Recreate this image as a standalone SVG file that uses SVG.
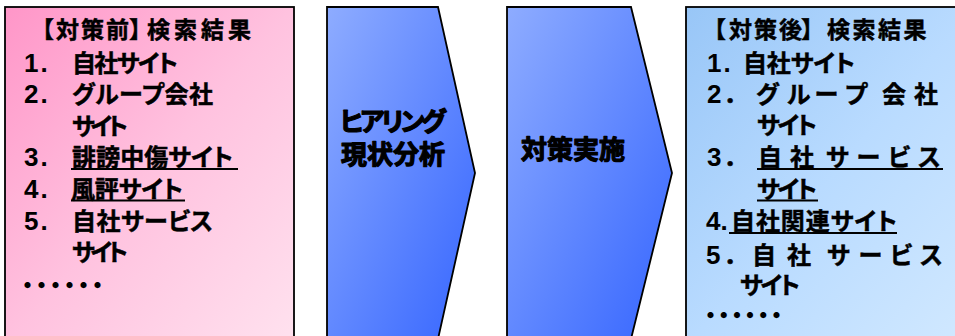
<svg xmlns="http://www.w3.org/2000/svg" width="955" height="336" viewBox="0 0 955 336">
<defs>
<linearGradient id="gPink" x1="0" y1="0" x2="1" y2="1">
<stop offset="0" stop-color="#ff96c8"/>
<stop offset="0.5" stop-color="#ffc2df"/>
<stop offset="1" stop-color="#ffe2ef"/>
</linearGradient>
<linearGradient id="gBlue" x1="0" y1="0" x2="1" y2="1">
<stop offset="0" stop-color="#8eacff"/>
<stop offset="1" stop-color="#3565ff"/>
</linearGradient>
<linearGradient id="gSky" x1="0" y1="0" x2="1" y2="1">
<stop offset="0" stop-color="#98c6f7"/>
<stop offset="0.5" stop-color="#b9dbff"/>
<stop offset="1" stop-color="#d2e9ff"/>
</linearGradient>
<style>
.box{stroke:#000;stroke-width:1.8}
.t{font-family:"Noto Sans CJK JP",sans-serif;font-weight:700;font-size:24px;fill:#000;stroke:#000;stroke-width:0.5;font-feature-settings:"palt"}
.d{font-family:"Liberation Sans","Noto Sans CJK JP",sans-serif;font-weight:700;font-size:26px;fill:#000}
.ti{font-family:"Noto Sans CJK JP",sans-serif;font-weight:700;font-size:23px;fill:#000;stroke:#000;stroke-width:0.5}
.m{font-family:"Noto Sans CJK JP",sans-serif;font-weight:700;font-size:26px;fill:#000;stroke:#000;stroke-width:1.2;stroke-linejoin:round;font-feature-settings:"palt"}
.dots{font-family:"Noto Sans CJK JP",sans-serif;font-weight:700;font-size:24px;fill:#000}
.ul{stroke:#000;stroke-width:2}
</style>
</defs>

<g id="before">
<rect class="box" x="5" y="7" width="289" height="340" fill="url(#gPink)"/>
<text class="ti" y="38" x="31 56 81 106 129 147 174 201 228">【対策前】検索結果</text>
<text class="d" x="24" y="72" letter-spacing="2">1.</text>
<text class="t" x="72" y="72" textLength="106">自社サイト</text>
<text class="d" x="24" y="103" letter-spacing="2">2.</text>
<text class="t" x="72" y="103" textLength="141">グループ会社</text>
<text class="t" x="72" y="135" textLength="56">サイト</text>
<text class="d" x="24" y="166" letter-spacing="2">3.</text>
<text class="t" x="72" y="166" textLength="161">誹謗中傷サイト</text>
<line class="ul" x1="71" y1="169" x2="238" y2="169"/>
<text class="d" x="24" y="198" letter-spacing="2">4.</text>
<text class="t" x="71" y="198" textLength="112">風評サイト</text>
<line class="ul" x1="71" y1="200.5" x2="185" y2="200.5"/>
<text class="d" x="24" y="230" letter-spacing="2">5.</text>
<text class="t" x="72" y="230" textLength="141">自社サービス</text>
<text class="t" x="72" y="261" textLength="56">サイト</text>
<text class="dots" x="15.5" y="294" letter-spacing="-10">・・・・・・</text>
</g>

<g id="step1">
<polygon class="box" points="327,7 438,7 475,173 438,339 327,339" fill="url(#gBlue)"/>
<text class="m" x="340" y="131" textLength="106">ヒアリング</text>
<text class="m" x="341" y="164" textLength="104">現状分析</text>
</g>

<g id="step2">
<polygon class="box" points="507,7 631,7 672,173 631,339 507,339" fill="url(#gBlue)"/>
<text class="m" x="521" y="159" textLength="104">対策実施</text>
</g>

<g id="after">
<rect class="box" x="686" y="7" width="290" height="340" fill="url(#gSky)"/>
<text class="ti" y="38" x="703 729 754 779 801 827 852.5 878 903.5">【対策後】検索結果</text>
<text class="d" x="707" y="72" letter-spacing="2">1.</text>
<text class="t" x="743" y="72" textLength="112">自社サイト</text>
<text class="d" y="103" x="707">2</text>
<text class="t" y="103" x="727 756 787 815 845 882 914">．グループ会社</text>
<text class="t" x="757" y="134" textLength="60">サイト</text>
<text class="d" y="166" x="707">3</text>
<text class="t" y="166" x="727 758 790 826 857 888 918">．自社サービス</text>
<line class="ul" x1="757" y1="169" x2="943" y2="169"/>
<text class="t" x="757" y="198" textLength="60">サイト</text>
<line class="ul" x1="757" y1="200.5" x2="818" y2="200.5"/>
<text class="d" x="706" y="230">4.</text>
<text class="t" x="731" y="230" textLength="166">自社関連サイト</text>
<line class="ul" x1="729" y1="233" x2="897" y2="233"/>
<text class="d" y="264" x="706">5</text>
<text class="t" y="264" x="727 752 787 827 859 890 920">．自社サービス</text>
<text class="t" x="740" y="294" textLength="60">サイト</text>
<text class="dots" x="698.5" y="324" letter-spacing="-10.8">・・・・・・</text>
</g>
</svg>
